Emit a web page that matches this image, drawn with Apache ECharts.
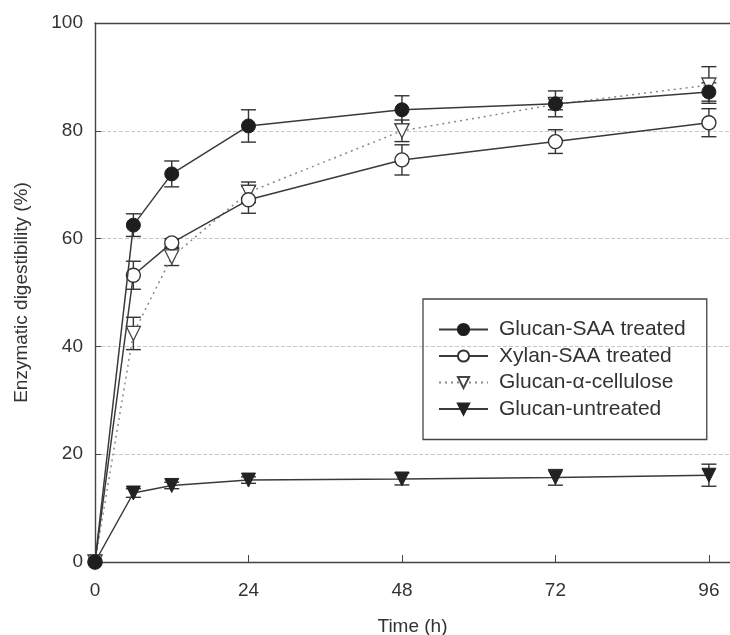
<!DOCTYPE html>
<html>
<head>
<meta charset="utf-8">
<script src="https://cdn.jsdelivr.net/npm/echarts@6/dist/echarts.min.js"></script>
<style>
  html, body { margin: 0; padding: 0; background: #fff; }
  #chart { width: 730px; height: 635px; }
</style>
</head>
<body>
<div id="chart"></div>
<script>
const hours = [0, 6, 12, 24, 48, 72, 96];

const glucanSaa = [0, 62.5, 72.0, 80.9, 83.9, 85.0, 87.2];
const glucanSaaErr = [0, 2.1, 2.4, 3.0, 2.6, 2.4, 1.7];

const xylanSaa = [0, 53.2, 59.2, 67.2, 74.6, 78.0, 81.5];
const xylanSaaErr = [0, 2.6, 0.8, 2.5, 2.8, 2.2, 2.6];

const glucanCellulose = [0, 42.4, 56.6, 68.6, 80.0, 84.9, 88.5];
const glucanCelluloseErr = [0, 3.0, 1.6, 1.9, 2.0, 1.0, 3.4];

const glucanUntreated = [0, 12.8, 14.2, 15.2, 15.4, 15.7, 16.1];
const glucanUntreatedErr = [0, 0.8, 0.6, 0.6, 1.1, 1.45, 2.05];

const xTicks = [0, 24, 48, 72, 96];
const yTicks = [0, 20, 40, 60, 80, 100];

const ink = '#333';
const font = 'Liberation Sans, Arial, Helvetica, sans-serif';

let chartDom = document.getElementById('chart');
let myChart = echarts.init(chartDom, null, { renderer: 'canvas' });

const pairs = (vals) => hours.map((h, i) => [h, vals[i]]);
const errPairs = (vals, errs) => hours
    .map((h, i) => [h, vals[i] - errs[i], vals[i] + errs[i]])
    .filter(d => d[2] - d[1] > 0);

const errorSeries = (vals, errs) => ({
    type: 'custom',
    z: 1,
    silent: true,
    renderItem: (params, api) => {
        const x = api.value(0);
        const lo = api.coord([x, api.value(1)]);
        const hi = api.coord([x, api.value(2)]);
        const w = 7.5;
        const style = { stroke: '#333', lineWidth: 1.4 };
        return {
            type: 'group',
            children: [
                { type: 'line', shape: { x1: lo[0], y1: lo[1], x2: hi[0], y2: hi[1] }, style },
                { type: 'line', shape: { x1: lo[0] - w, y1: lo[1], x2: lo[0] + w, y2: lo[1] }, style },
                { type: 'line', shape: { x1: hi[0] - w, y1: hi[1], x2: hi[0] + w, y2: hi[1] }, style }
            ]
        };
    },
    data: errPairs(vals, errs)
});

let option = {
    animation: false,
    textStyle: { fontFamily: font },
    grid: {
        left: 95,
        top: 23,
        right: 0,
        bottom: 73,
        outerBoundsMode: 'none'
    },
    legend: {
        orient: 'vertical',
        left: 423,
        top: 299,
        padding: [20, 21, 20, 15],
        itemWidth: 49,
        itemHeight: 14,
        itemGap: 5.5,
        borderColor: '#444',
        borderWidth: 1.3,
        textStyle: { fontSize: 21, color: ink, padding: [0, 0, 0, 6] },
        data: ['Glucan-SAA treated', 'Xylan-SAA treated', 'Glucan-α-cellulose', 'Glucan-untreated']
    },
    xAxis: [
        {
            type: 'value',
            min: 0,
            max: 99.3,
            interval: 24,
            name: 'Time (h)',
            nameLocation: 'middle',
            nameGap: 55,
            nameTextStyle: { fontSize: 19, color: ink },
            axisLine: { lineStyle: { color: '#444', width: 1.4 } },
            axisTick: { inside: true, length: 7, lineStyle: { color: '#444' } },
            axisLabel: {
                fontSize: 19,
                color: ink,
                margin: 19,
                showMaxLabel: false,
                formatter: v => xTicks.includes(v) ? String(v) : ''
            },
            splitLine: { show: false }
        },
        {
            type: 'value',
            position: 'top',
            min: 0,
            max: 99.3,
            interval: 24,
            axisLine: { show: true, lineStyle: { color: '#444', width: 1.4 } },
            axisTick: { show: false },
            axisLabel: { show: false },
            splitLine: { show: false }
        }
    ],
    yAxis: {
        type: 'value',
        min: 0,
        max: 100,
        interval: 20,
        name: 'Enzymatic digestibility (%)',
        nameLocation: 'middle',
        nameGap: 64,
        nameTextStyle: { fontSize: 19, color: ink },
        axisLine: { show: true, lineStyle: { color: '#444', width: 1.4 } },
        axisTick: { show: true, inside: true, length: 6, lineStyle: { color: '#444' } },
        axisLabel: {
            fontSize: 19,
            color: ink,
            margin: 12,
            formatter: v => yTicks.includes(v) ? String(v) : ''
        },
        splitLine: { show: true, lineStyle: { color: '#c8c8c8', type: [4, 2], width: 1 } }
    },
    series: [
        errorSeries(glucanUntreated, glucanUntreatedErr),
        errorSeries(glucanCellulose, glucanCelluloseErr),
        errorSeries(xylanSaa, xylanSaaErr),
        errorSeries(glucanSaa, glucanSaaErr),
        {
            name: 'Glucan-untreated',
            type: 'line',
            z: 3,
            symbol: 'triangle',
            symbolRotate: 180,
            symbolSize: 14,
            lineStyle: { color: '#3a3a3a', width: 1.5 },
            itemStyle: { color: '#222', borderColor: '#222', borderWidth: 1 },
            data: pairs(glucanUntreated)
        },
        {
            name: 'Glucan-α-cellulose',
            type: 'line',
            z: 3,
            symbol: 'triangle',
            symbolRotate: 180,
            symbolSize: 14,
            lineStyle: { color: '#888', width: 1.5, type: [2, 4] },
            itemStyle: { color: '#fff', borderColor: '#444', borderWidth: 1.3 },
            data: pairs(glucanCellulose)
        },
        {
            name: 'Xylan-SAA treated',
            type: 'line',
            z: 4,
            symbol: 'circle',
            symbolSize: 14,
            lineStyle: { color: '#3a3a3a', width: 1.5 },
            itemStyle: { color: '#fff', borderColor: '#333', borderWidth: 1.4 },
            data: pairs(xylanSaa)
        },
        {
            name: 'Glucan-SAA treated',
            type: 'line',
            z: 5,
            symbol: 'circle',
            symbolSize: 14,
            lineStyle: { color: '#3a3a3a', width: 1.5 },
            itemStyle: { color: '#1e1e1e', borderColor: '#1e1e1e', borderWidth: 1 },
            data: pairs(glucanSaa)
        }
    ]
};

option && myChart.setOption(option);
</script>
</body>
</html>
